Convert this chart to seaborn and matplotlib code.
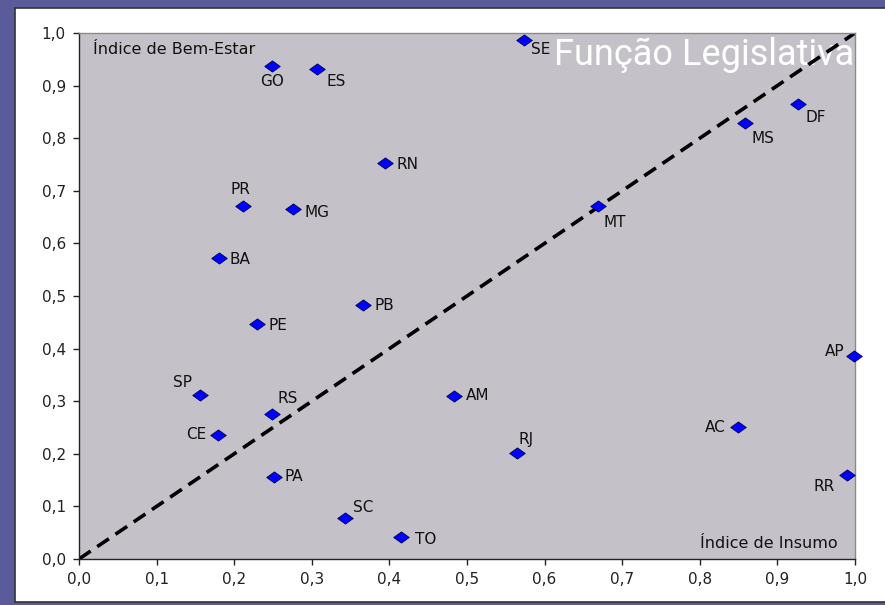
import numpy as np
import pandas as pd
import matplotlib
matplotlib.use("Agg")
import matplotlib.pyplot as plt
import matplotlib.ticker as mtick
from matplotlib.patches import Rectangle
import seaborn as sns

# dados
estados = ["SE", "GO", "ES", "DF", "MS", "RN", "PR", "MG", "MT", "BA", "PB", "PE",
           "AP", "SP", "AM", "RS", "AC", "CE", "RJ", "PA", "RR", "SC", "TO"]
insumo = [0.573, 0.249, 0.307, 0.927, 0.858, 0.394, 0.211, 0.276, 0.669, 0.180, 0.366, 0.229,
          0.999, 0.156, 0.483, 0.249, 0.849, 0.179, 0.564, 0.251, 0.990, 0.343, 0.415]
bem_estar = [0.987, 0.937, 0.932, 0.865, 0.829, 0.753, 0.671, 0.665, 0.671, 0.572, 0.483, 0.447,
             0.386, 0.312, 0.310, 0.276, 0.251, 0.236, 0.202, 0.156, 0.160, 0.078, 0.042]

df = pd.DataFrame({"estado": estados, "insumo": insumo, "bem_estar": bem_estar})

# posição dos rótulos (px na imagem: dx, dy para baixo, alinhamento)
rotulos = {
    "SE": (7, 10, "left"), "GO": (0, 15, "center"), "ES": (9, 13, "left"),
    "DF": (7, 13, "left"), "MS": (7, 16, "left"), "RN": (12, 2, "left"),
    "PR": (-2, -17, "center"), "MG": (11, 3, "left"), "MT": (5, 16, "left"),
    "BA": (11, 1, "left"), "PB": (11, 1, "left"), "PE": (12, 2, "left"),
    "AP": (-10, -4, "right"), "SP": (-8, -12, "right"), "AM": (12, 0, "left"),
    "RS": (5, -15, "left"), "AC": (-12, 1, "right"), "CE": (-12, 0, "right"),
    "RJ": (2, -13, "left"), "PA": (11, 0, "left"), "RR": (-12, 12, "right"),
    "SC": (8, -10, "left"), "TO": (14, 3, "left"),
}

# losango achatado como no Excel
losango = [(-1, 0), (0, 0.72), (1, 0), (0, -0.72), (-1, 0)]

fig = plt.figure(figsize=(8.85, 6.05), dpi=100, facecolor="#5B5B9C")

# painel branco do slide
fig.patches.append(Rectangle((15 / 885, 3 / 605), 1, 594 / 605, transform=fig.transFigure,
                             facecolor="white", edgecolor="#333333", linewidth=1.2, zorder=-5))

ax = fig.add_axes([79 / 885, 1 - 559 / 605, 776 / 885, 526 / 605])
ax.set_zorder(2)
ax.set_facecolor("#C4C2C8")

# linha diagonal
ax.plot([0, 1], [0, 1], color="black", linestyle=(0, (3.9, 2.2)), linewidth=2.6, zorder=2)

sns.scatterplot(data=df, x="insumo", y="bem_estar", marker=losango, s=125, color="#0000FF",
                edgecolor="#000055", linewidth=0.6, ax=ax, zorder=3, clip_on=False)

for est, x, y in zip(estados, insumo, bem_estar):
    dx, dy, ha = rotulos[est]
    ax.annotate(est, (x, y), xytext=(dx / 1.389, -dy / 1.389), textcoords="offset points",
                ha=ha, va="center", fontsize=11, color="#111111")

ax.set_xlim(0, 1)
ax.set_ylim(0, 1)
ticks = np.arange(0, 1.01, 0.1)
ax.set_xticks(ticks)
ax.set_yticks(ticks)
fmt = mtick.FuncFormatter(lambda v, _: f"{v:.1f}".replace(".", ","))
ax.xaxis.set_major_formatter(fmt)
ax.yaxis.set_major_formatter(fmt)
ax.tick_params(direction="out", length=4.5, width=1, labelsize=11, colors="#222222", pad=5)
ax.set_xlabel("")
ax.set_ylabel("")

for s in ["left", "bottom"]:
    ax.spines[s].set_color("#222222")
    ax.spines[s].set_linewidth(1)
for s in ["top", "right"]:
    ax.spines[s].set_color("#8A8A8A")
    ax.spines[s].set_linewidth(1)

ax.text(0.018, 0.968, "Índice de Bem-Estar", transform=ax.transAxes, ha="left", va="center",
        fontsize=11.5, color="#111111")
ax.text(0.977, 0.030, "Índice de Insumo", transform=ax.transAxes, ha="right", va="center",
        fontsize=11.5, color="#111111")

ax.text(0.9985, 0.939, "Função Legislativa", transform=ax.transAxes, ha="right", va="baseline",
        fontsize=26, color="white", family="Roboto", zorder=1)

fig.savefig("out.png", dpi=100, facecolor=fig.get_facecolor())
